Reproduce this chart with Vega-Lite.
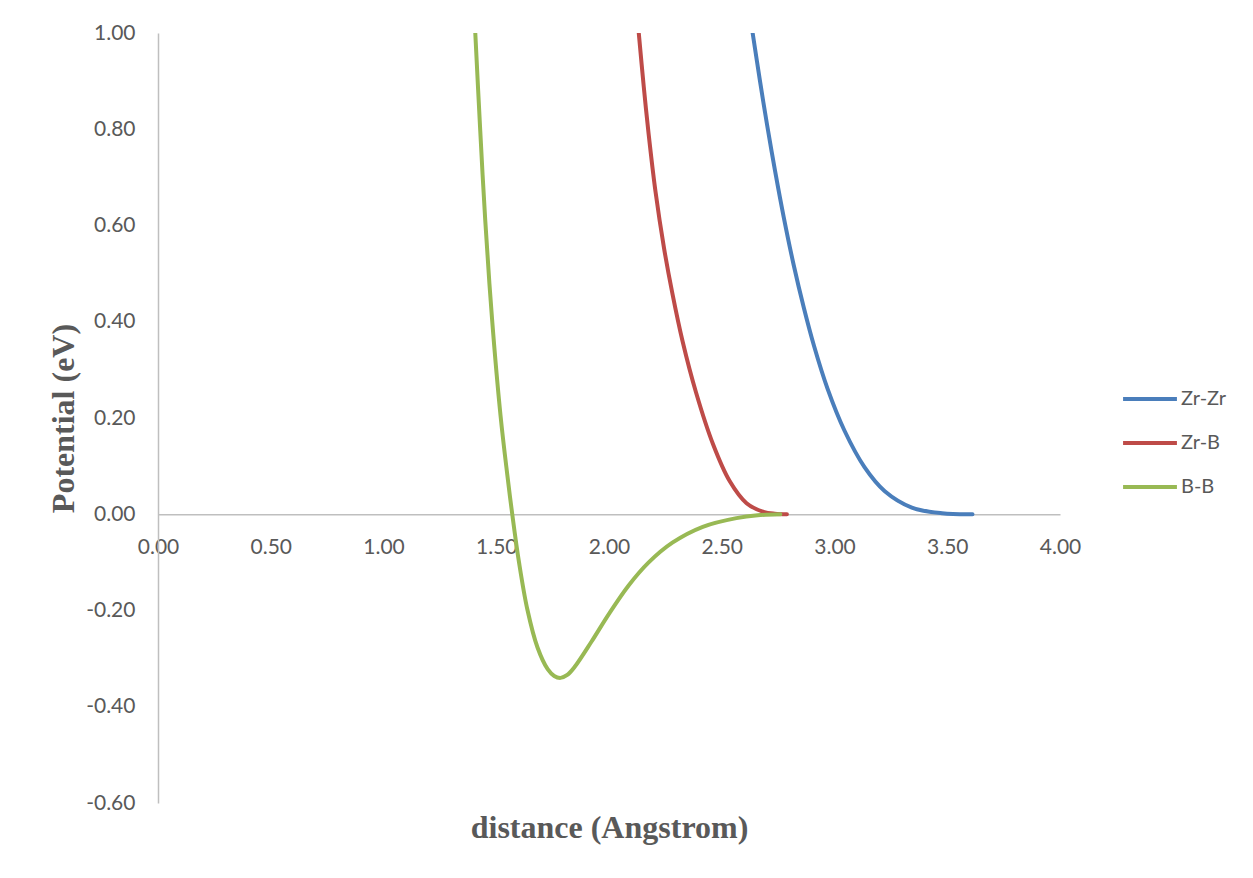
{
  "$schema": "https://vega.github.io/schema/vega-lite/v6.json",
  "width": 902,
  "height": 770,
  "autosize": {"type": "none"},
  "padding": {"left": 158, "top": 33, "right": 193, "bottom": 75},
  "background": "white",
  "config": {
    "view": {"stroke": null},
    "font": "Lato",
    "axis": {"grid": false, "ticks": false, "domainColor": "#BFBFBF", "domainWidth": 1.5, "labelColor": "#595959", "labelFont": "Lato", "labelFontSize": 21, "titleColor": "#595959", "titleFont": "Liberation Serif", "titleFontSize": 32, "titleFontWeight": "bold"}
  },
  "data": {
    "values": [
      {"r": 2.637, "v": 1.0, "pair": "Zr-Zr"},
      {"r": 2.670, "v": 0.899, "pair": "Zr-Zr"},
      {"r": 2.700, "v": 0.812, "pair": "Zr-Zr"},
      {"r": 2.737, "v": 0.712, "pair": "Zr-Zr"},
      {"r": 2.775, "v": 0.617, "pair": "Zr-Zr"},
      {"r": 2.819, "v": 0.518, "pair": "Zr-Zr"},
      {"r": 2.864, "v": 0.429, "pair": "Zr-Zr"},
      {"r": 2.909, "v": 0.350, "pair": "Zr-Zr"},
      {"r": 2.969, "v": 0.261, "pair": "Zr-Zr"},
      {"r": 3.044, "v": 0.174, "pair": "Zr-Zr"},
      {"r": 3.133, "v": 0.098, "pair": "Zr-Zr"},
      {"r": 3.223, "v": 0.048, "pair": "Zr-Zr"},
      {"r": 3.343, "v": 0.014, "pair": "Zr-Zr"},
      {"r": 3.477, "v": 0.002, "pair": "Zr-Zr"},
      {"r": 3.612, "v": 0.0, "pair": "Zr-Zr"},
      {"r": 2.132, "v": 1.0, "pair": "Zr-B"},
      {"r": 2.154, "v": 0.889, "pair": "Zr-B"},
      {"r": 2.176, "v": 0.789, "pair": "Zr-B"},
      {"r": 2.206, "v": 0.671, "pair": "Zr-B"},
      {"r": 2.244, "v": 0.553, "pair": "Zr-B"},
      {"r": 2.281, "v": 0.459, "pair": "Zr-B"},
      {"r": 2.326, "v": 0.360, "pair": "Zr-B"},
      {"r": 2.386, "v": 0.253, "pair": "Zr-B"},
      {"r": 2.461, "v": 0.146, "pair": "Zr-B"},
      {"r": 2.535, "v": 0.069, "pair": "Zr-B"},
      {"r": 2.610, "v": 0.023, "pair": "Zr-B"},
      {"r": 2.685, "v": 0.005, "pair": "Zr-B"},
      {"r": 2.735, "v": 0.001, "pair": "Zr-B"},
      {"r": 2.789, "v": 0.0, "pair": "Zr-B"},
      {"r": 1.407, "v": 1.0, "pair": "B-B"},
      {"r": 1.429, "v": 0.797, "pair": "B-B"},
      {"r": 1.451, "v": 0.612, "pair": "B-B"},
      {"r": 1.481, "v": 0.408, "pair": "B-B"},
      {"r": 1.519, "v": 0.205, "pair": "B-B"},
      {"r": 1.549, "v": 0.082, "pair": "B-B"},
      {"r": 1.571, "v": 0.0, "pair": "B-B"},
      {"r": 1.601, "v": -0.100, "pair": "B-B"},
      {"r": 1.638, "v": -0.198, "pair": "B-B"},
      {"r": 1.683, "v": -0.277, "pair": "B-B"},
      {"r": 1.728, "v": -0.322, "pair": "B-B"},
      {"r": 1.757, "v": -0.336, "pair": "B-B"},
      {"r": 1.785, "v": -0.340, "pair": "B-B"},
      {"r": 1.815, "v": -0.334, "pair": "B-B"},
      {"r": 1.848, "v": -0.317, "pair": "B-B"},
      {"r": 1.922, "v": -0.265, "pair": "B-B"},
      {"r": 1.997, "v": -0.209, "pair": "B-B"},
      {"r": 2.087, "v": -0.148, "pair": "B-B"},
      {"r": 2.176, "v": -0.100, "pair": "B-B"},
      {"r": 2.281, "v": -0.059, "pair": "B-B"},
      {"r": 2.416, "v": -0.026, "pair": "B-B"},
      {"r": 2.565, "v": -0.008, "pair": "B-B"},
      {"r": 2.660, "v": -0.002, "pair": "B-B"},
      {"r": 2.760, "v": 0.0, "pair": "B-B"}
    ]
  },
  "mark": {"type": "line", "strokeWidth": 4, "strokeCap": "round", "interpolate": "catmull-rom", "clip": true},
  "encoding": {
    "x": {
      "field": "r", "type": "quantitative",
      "scale": {"domain": [0, 4], "nice": false, "zero": false},
      "axis": {"title": "distance (Angstrom)", "orient": "bottom", "offset": -288.75, "values": [0, 0.5, 1, 1.5, 2, 2.5, 3, 3.5, 4], "format": ".2f", "labelFlush": false, "labelOverlap": false, "labelPadding": 22, "titleY": 313, "titleBaseline": "middle"}
    },
    "y": {
      "field": "v", "type": "quantitative",
      "scale": {"domain": [-0.6, 1], "nice": false, "zero": false},
      "axis": {"title": "Potential (eV)", "values": [-0.6, -0.4, -0.2, 0, 0.2, 0.4, 0.6, 0.8, 1], "format": ".2f", "labelExpr": "replace(datum.label, '\u2212', '-')", "labelFlush": false, "labelOverlap": false, "labelPadding": 23, "titleX": -95, "titleY": 385, "titleBaseline": "middle", "titleAngle": -90}
    },
    "color": {
      "field": "pair", "type": "nominal",
      "scale": {"domain": ["Zr-Zr", "Zr-B", "B-B"], "range": ["#4A7EBB", "#BE4B48", "#98B954"]},
      "legend": {"title": null, "orient": "none", "legendX": 963, "legendY": 337, "padding": 0, "symbolType": "stroke", "symbolSize": 2900, "symbolStrokeWidth": 4, "labelFont": "Lato", "labelFontSize": 20, "labelColor": "#595959", "labelOffset": 2, "rowPadding": 5}
    }
  }
}
